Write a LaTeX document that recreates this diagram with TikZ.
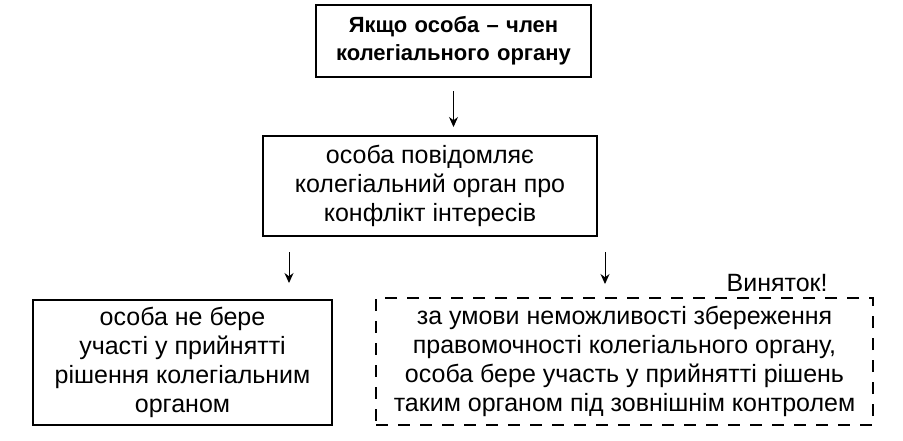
\documentclass[tikz,border=0pt]{standalone}
\usepackage{fontspec}
\setmainfont{Liberation Sans}
\usepackage{tikz}
\usetikzlibrary{arrows.meta, positioning}

\begin{document}
\begin{tikzpicture}[
    x=0.5pt, y=-0.5pt,
    font=\fontsize{12.5}{14.5}\selectfont,
    header/.style={rectangle, draw, line width=1.2pt, text width=130pt, align=center, minimum width=137.5pt, minimum height=36pt, font=\fontsize{11}{14}\selectfont\bfseries},
    action/.style={rectangle, draw, line width=1pt, align=center, inner sep=1pt},
    exception/.style={rectangle, draw, line width=1pt, dash pattern=on 6pt off 5pt, align=center, inner sep=1pt},
    arr/.style={-{Stealth[length=5pt, width=4.5pt]}, line width=0.5pt}
]
\useasboundingbox (0,0) rectangle (903,440);

% Condition
\node[header] (member) at (453.5,41) {Якщо особа – член\\колегіального органу};

% Duty
\node[action, minimum width=167pt, minimum height=50pt] (notify) at (430,186) {особа повідомляє\\колегіальний орган про\\конфлікт інтересів};

% Outcomes
\node[action, minimum width=149.5pt, minimum height=62.5pt] (abstain) at (182.5,362.5) {особа не бере\\участі у прийнятті\\рішення колегіальним\\органом};
\node[exception, minimum width=248.5pt, minimum height=63.5pt] (control) at (624.5,361.5) {за умови неможливості збереження\\правомочності колегіального органу,\\особа бере участь у прийнятті рішень\\таким органом під зовнішнім контролем};
\node[anchor=south east, inner sep=0pt] (except) at (828,292) {Виняток!};

% Arrows
\coordinate (leftarr) at (289,0);
\coordinate (rightarr) at (605,0);
\draw[arr, shorten <=6.5pt, shorten >=4pt] (member.south) -- (member.south |- notify.north);
\draw[arr, shorten <=7.5pt, shorten >=8pt] (notify.south -| leftarr) -- (abstain.north -| leftarr);
\draw[arr, shorten <=7.5pt, shorten >=6.5pt] (notify.south -| rightarr) -- (control.north -| rightarr);

\end{tikzpicture}
\end{document}
